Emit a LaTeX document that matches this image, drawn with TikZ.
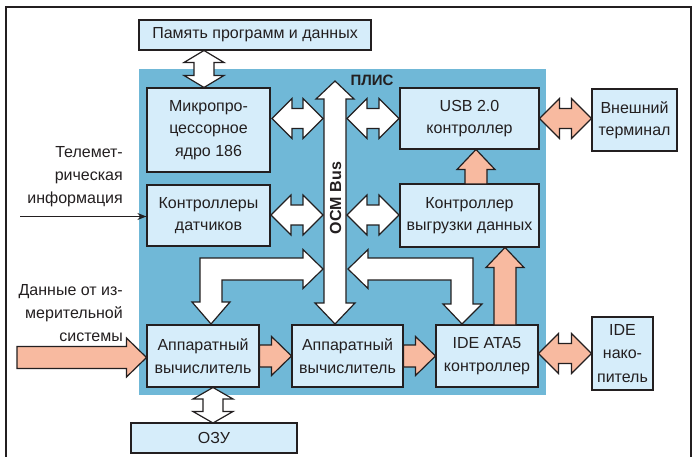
\documentclass[tikz,border=0pt]{standalone}
\usepackage{fontspec}
\setmainfont{Liberation Sans}
\usetikzlibrary{arrows.meta}
\definecolor{plis}{RGB}{112,184,215}
\definecolor{boxfill}{RGB}{214,237,250}
\definecolor{salmon}{RGB}{248,186,160}
\definecolor{ink}{RGB}{35,31,32}
% horizontal double block arrow: [style] x1 x2 y
\newcommand\HDA[4][barrow]{%
 \draw[#1] (#2,#4) -- (#2+20,#4-20) -- (#2+20,#4-10) -- (#3-20,#4-10) -- (#3-20,#4-20) -- (#3,#4)
  -- (#3-20,#4+20) -- (#3-20,#4+10) -- (#2+20,#4+10) -- (#2+20,#4+20) -- cycle;}
% vertical double block arrow: [style] x y1 y2 headlength
\newcommand\VDA[5][barrow]{%
 \draw[#1] (#2,#3) -- (#2+20,#3+#5) -- (#2+10,#3+#5) -- (#2+10,#4-#5) -- (#2+20,#4-#5) -- (#2,#4)
  -- (#2-20,#4-#5) -- (#2-10,#4-#5) -- (#2-10,#3+#5) -- (#2-20,#3+#5) -- cycle;}
% right single block arrow: [style] xtail xtip y
\newcommand\RSA[4][sarrow]{%
 \draw[#1] (#2,#4-11) -- (#3-20,#4-11) -- (#3-20,#4-19.5) -- (#3,#4) -- (#3-20,#4+19.5) -- (#3-20,#4+11) -- (#2,#4+11) -- cycle;}
% up single block arrow: [style] x ytail ytip
\newcommand\USA[4][sarrow]{%
 \draw[#1] (#2-11,#3) -- (#2-11,#4+20) -- (#2-19,#4+20) -- (#2,#4) -- (#2+19,#4+20) -- (#2+11,#4+20) -- (#2+11,#3) -- cycle;}
\begin{document}
\begin{tikzpicture}[x=1pt,y=-1pt,
  box/.style={draw=ink, fill=boxfill, line width=1.2pt, inner sep=0pt, align=center, text=ink,
    font=\fontsize{16}{22.5}\selectfont},
  lbl/.style={text=ink, inner sep=0pt, font=\fontsize{16}{23}\selectfont},
  barrow/.style={draw=ink, line width=1.2pt, line join=miter, fill=white},
  sarrow/.style={barrow, fill=salmon}]
\useasboundingbox (0,0) rectangle (696,457);
\fill[white] (0,0) rectangle (696,457);
% frame
\draw[ink, line width=1.2pt] (6,458) -- (6,7) -- (691,7) -- (691,458);
% FPGA area
\fill[plis] (139,69) rectangle (546,395);
\node[lbl, font=\fontsize{15}{18}\selectfont\bfseries] (plislbl) at (372,80) {ПЛИС};
% bus
\draw[barrow] (335,81) -- (354,99) -- (346,99) -- (346,303) -- (355,303) -- (335,324) -- (315,303)
  -- (324,303) -- (324,99) -- (316,99) -- cycle;
\node[lbl, rotate=90, font=\fontsize{16}{18}\selectfont\bfseries] (buslbl) at (335.5,198) {OCM Bus};
% boxes
\node[box, minimum width=232pt, minimum height=30pt] (mem) at (255,35) {Память программ и данных};
\node[box, minimum width=123pt, minimum height=84pt] (micro) at (208.5,130) {Микропро-\\цессорное\\ядро 186};
\node[box, minimum width=123pt, minimum height=61pt] (sens) at (208.5,215.5) {Контроллеры\\датчиков};
\node[box, minimum width=139pt, minimum height=61pt] (usb) at (469.5,118.5) {USB 2.0\\контроллер};
\node[box, minimum width=139pt, minimum height=63pt] (unl) at (469.5,215.5) {Контроллер\\выгрузки данных};
\node[box, minimum width=85pt, minimum height=62pt] (term) at (634.5,120) {Внешний\\терминал};
\node[box, minimum width=112pt, minimum height=62pt] (hwa) at (203,356) {Аппаратный\\вычислитель};
\node[box, minimum width=111pt, minimum height=62pt] (hwb) at (347.5,356) {Аппаратный\\вычислитель};
\node[box, minimum width=102pt, minimum height=62pt] (ide) at (487,356) {IDE ATA5\\контроллер};
\node[box, minimum width=61pt, minimum height=73pt, font=\fontsize{16}{23.5}\selectfont] (drive) at (622.5,353.5) {IDE\\нако-\\питель};
\node[box, minimum width=166pt, minimum height=30pt] (ram) at (214,438) {ОЗУ};
% white block arrows
\VDA{204}{50.5}{87.5}{12}
\HDA{272}{323}{118.5}
\HDA{347}{399}{118.5}
\HDA{271}{323}{215}
\HDA{347}{399}{215}
\VDA{213}{387.5}{423}{11.5}
% L-shaped arrows
\draw[barrow] (323,269) -- (303,249.5) -- (303,258) -- (200,258) -- (200,302) -- (192,302) -- (211,324)
  -- (230,302) -- (222,302) -- (222,280) -- (303,280) -- (303,288.5) -- cycle;
\draw[barrow] (348,269) -- (368,249.5) -- (368,258) -- (473,258) -- (473,304) -- (482,304) -- (462,324)
  -- (443,304) -- (451,304) -- (451,280) -- (368,280) -- (368,288.5) -- cycle;
% salmon arrows
\HDA[sarrow]{539.5}{591.5}{118.5}
\HDA[sarrow]{538.5}{591.5}{353.5}
\USA{476}{184}{149.5}
\USA{505}{325}{247.5}
\RSA{259.5}{291.5}{356}
\RSA{403.5}{435.5}{356}
\RSA{17}{146.5}{357.5}
% left labels
\node[lbl, align=right, anchor=east] (tele) at (123,177) {Телемет-\\рическая\\информация};
\node[lbl, align=right, anchor=east] (meas) at (123,313) {Данные от из-\\мерительной\\системы};
\coordinate (telstart) at (20,216.5);
\draw[ink, line width=1.2pt, -{Stealth[length=9pt,width=7pt]}] (telstart) -- (sens.west |- telstart);
\end{tikzpicture}
\end{document}
